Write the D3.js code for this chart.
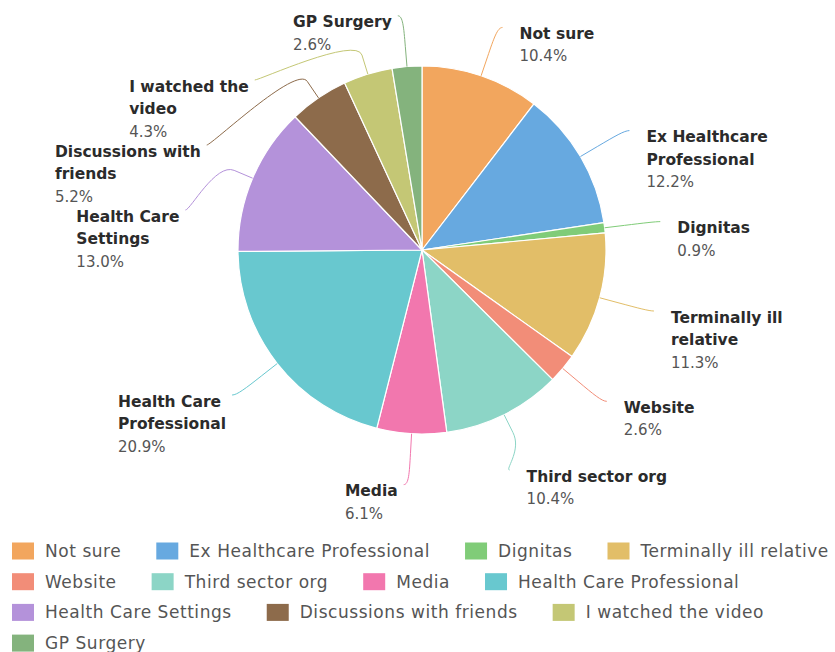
<!DOCTYPE html>
<html>
<head>
<meta charset="utf-8">
<script src="https://cdn.jsdelivr.net/npm/d3@7/dist/d3.min.js"></script>
<style>
  body { margin: 0; background: #ffffff; }
  svg { display: block; }
</style>
</head>
<body>
<svg id="chart" width="835" height="652"></svg>
<script>
// Where people heard about it (share of responses, %)
const categories = [
  "Not sure", "Ex Healthcare Professional", "Dignitas", "Terminally ill relative",
  "Website", "Third sector org", "Media", "Health Care Professional",
  "Health Care Settings", "Discussions with friends", "I watched the video", "GP Surgery"
];
const percentages = [10.4, 12.2, 0.9, 11.3, 2.6, 10.4, 6.1, 20.9, 13.0, 5.2, 4.3, 2.6];
// Wrapped names used in the slice labels
const labelLines = [
  ["Not sure"], ["Ex Healthcare", "Professional"], ["Dignitas"], ["Terminally ill", "relative"],
  ["Website"], ["Third sector org"], ["Media"], ["Health Care", "Professional"],
  ["Health Care", "Settings"], ["Discussions with", "friends"], ["I watched the", "video"], ["GP Surgery"]
];
const sliceColors = [
  "#F2A65E", "#67A9E0", "#80CC78", "#E2BE68", "#F28D78", "#8CD5C6",
  "#F277AE", "#68C8CF", "#B492DA", "#8D6B4B", "#C4C775", "#84B37D"
];

const W = 835, H = 652;
const cx = 422, cy = 250, radius = 184;
const labelRadius = 235;     // where label anchors sit
const breakRadius = radius + 20;
const slotStep = 65;         // vertical slot height used to stack labels
const lineH = 22.5;

const svg = d3.select("#chart");
const data = categories.map((c, i) => ({ name: c, value: percentages[i], lines: labelLines[i], color: sliceColors[i] }));

const pie = d3.pie().sort(null).value(d => d.value).startAngle(0).endAngle(2 * Math.PI);
const arcs = pie(data);
const arc = d3.arc().innerRadius(0).outerRadius(radius);

const g = svg.append("g");
g.append("g").attr("transform", `translate(${cx},${cy})`)
  .selectAll("path").data(arcs).join("path")
  .attr("d", arc)
  .attr("fill", d => d.data.color)
  .attr("stroke", "#ffffff")
  .attr("stroke-width", 1.2)
  .attr("stroke-linejoin", "round");

// polar helper (angle measured clockwise from 12 o'clock)
const polar = (a, rr) => [cx + rr * Math.sin(a), cy - rr * Math.cos(a)];
const getX = (y, left) => {
  const dy = Math.max(-labelRadius, Math.min(labelRadius, y - cy));
  return cx + (left ? -1 : 1) * Math.sqrt(labelRadius * labelRadius - dy * dy);
};

const items = arcs.map(d => {
  const a = (d.startAngle + d.endAngle) / 2;
  const nat = polar(a, labelRadius);
  return { d, a, left: a >= Math.PI, naturalY: nat[1], edge: polar(a, radius), brk: polar(a, breakRadius) };
});

// Slot based label placement, one half at a time
[false, true].forEach(left => {
  const pts = items.filter(p => p.left === left).sort((p, q) => p.naturalY - q.naturalY);
  const slots = [];
  for (let pos = cy - labelRadius; pos <= cy + labelRadius; pos += slotStep) slots.push(pos);
  const slotsLength = slots.length, length = pts.length;
  const used = [];
  pts.forEach((p, j) => {
    let closest = Infinity, slotIndex = 0;
    for (let s = 0; s < slotsLength; s++) {
      const dist = Math.abs(slots[s] - p.naturalY);
      if (dist < closest) { closest = dist; slotIndex = s; }
    }
    if (slotIndex < j && slots[j] !== null) {
      slotIndex = j;
    } else if (slotsLength < length - j + slotIndex && slots[j] !== null) {
      slotIndex = slotsLength - length + j;
      while (slots[slotIndex] === null) slotIndex++;
    } else {
      while (slots[slotIndex] === null) slotIndex++;
    }
    used.push({ i: slotIndex, y: slots[slotIndex], p });
    slots[slotIndex] = null;
  });
  used.sort((u, v) => u.i - v.i);
  used.forEach((u, j) => {
    const p = pts[j];
    let y = u.y;
    const near = Math.abs(p.naturalY - y) < 5;
    if (near || (p.naturalY > y && slots[u.i + 1] !== null) || (p.naturalY < y && slots[u.i - 1] !== null)) {
      y = p.naturalY;
    }
    p.y = y;
    p.x = getX(y, left);
  });
});

// Connectors
g.append("g").selectAll("path").data(items).join("path")
  .attr("fill", "none")
  .attr("stroke", d => d.d.data.color)
  .attr("stroke-width", 1)
  .attr("d", p => {
    const sx = p.x + (p.left ? -5 : 5);
    const [x2, y2] = p.brk, [x3, y3] = p.edge;
    const path = d3.path();
    path.moveTo(sx, p.y);
    path.bezierCurveTo(p.x, p.y, 2 * x2 - x3, 2 * y2 - y3, x2, y2);
    path.lineTo(x3, y3);
    return path.toString();
  });

// Labels
const labels = g.append("g").selectAll("g").data(items).join("g");
labels.each(function (p) {
  const el = d3.select(this);
  const t = el.append("text").attr("font-family", "'DejaVu Sans', sans-serif");
  p.d.data.lines.forEach((ln, k) => {
    t.append("tspan").attr("x", 0).attr("y", k * lineH)
      .attr("font-weight", "bold").attr("font-size", 15.5).attr("fill", "#2b2b2b").text(ln);
  });
  t.append("tspan").attr("x", 0).attr("y", p.d.data.lines.length * lineH)
    .attr("font-size", 15).attr("fill", "#555555").text(p.d.data.value.toFixed(1) + "%");
  const w = t.node().getBBox().width;
  const tx = p.left ? p.x - 11 - w : p.x + 22;
  el.attr("transform", `translate(${tx},${p.y + 11.5})`);
});

// Legend
const legend = svg.append("g").attr("font-family", "'DejaVu Sans', sans-serif");
let lx = 12, row = 0;
const rowY0 = 551, rowStep = 30.7;
data.forEach(d => {
  const item = legend.append("g");
  const txt = item.append("text").attr("x", 33).attr("y", 6)
    .attr("font-size", 17).attr("letter-spacing", 0.55).attr("fill", "#555555").text(d.name);
  const tw = txt.node().getComputedTextLength();
  if (lx + 33 + tw > W - 2 && lx > 12) { lx = 12; row++; }
  item.append("rect").attr("x", 0).attr("y", -8.5).attr("width", 22).attr("height", 17).attr("fill", d.color);
  item.attr("transform", `translate(${lx},${rowY0 + row * rowStep})`);
  lx += 33 + tw + 35;
});
</script>
</body>
</html>
